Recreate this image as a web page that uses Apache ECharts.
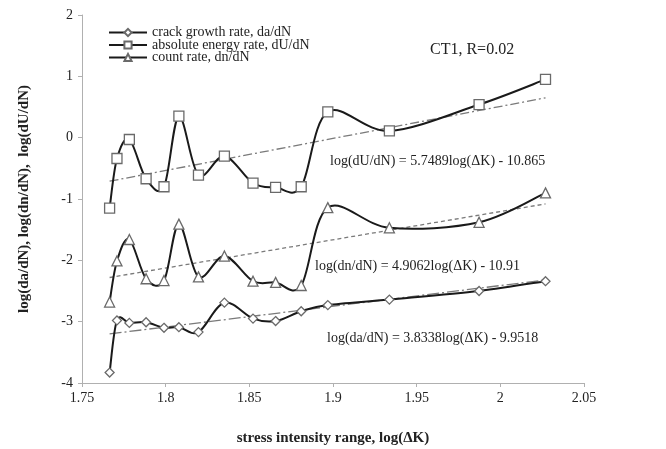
<!DOCTYPE html>
<html>
<head>
<meta charset="utf-8">
<script src="https://cdn.jsdelivr.net/npm/echarts@6/dist/echarts.min.js"></script>
<style>
html,body{margin:0;padding:0;background:#fff;}
#chart{width:666px;height:449px;}
</style>
</head>
<body>
<div id="chart"></div>
<script>
// log(ΔK) values shared by all three series
const xValues = [1.7665, 1.7709, 1.7783, 1.7883, 1.7990, 1.8079, 1.8196, 1.8351, 1.8522, 1.8657, 1.8810, 1.8969, 1.9337, 1.9873, 2.0270];
const daValues = [-3.83, -2.98, -3.02, -3.01, -3.10, -3.09, -3.17, -2.69, -2.95, -2.99, -2.83, -2.73, -2.64, -2.50, -2.34];
const dUValues = [-1.15, -0.34, -0.03, -0.67, -0.80, 0.35, -0.61, -0.30, -0.74, -0.81, -0.80, 0.42, 0.11, 0.54, 0.95];
const dnValues = [-2.68, -2.01, -1.66, -2.30, -2.33, -1.41, -2.27, -1.93, -2.34, -2.36, -2.41, -1.14, -1.47, -1.38, -0.90];

// trend line end points
const trendX = [1.7665, 2.0270];
const dUTrend = [-0.71, 0.65];
const dnTrend = [-2.28, -1.08];
const daTrend = [-3.20, -2.32];

const seriesNames = ['crack growth rate, da/dN', 'absolute energy rate, dU/dN', 'count rate, dn/dN'];
const xTicks = {min: 1.75, max: 2.05, interval: 0.05};
const yTicks = {min: -4, max: 2, interval: 1};

const equations = [
  'log(dU/dN) = 5.7489log(\u0394K) - 10.865',
  'log(dn/dN) = 4.9062log(\u0394K) - 10.91',
  'log(d\u0430/dN) = 3.8338log(\u0394K) - 9.9518'
];
const caseLabel = 'CT1, R=0.02';

const FONT = '"Liberation Serif", "DejaVu Serif", serif';
const zip = (xs, ys) => xs.map((x, i) => [x, ys[i]]);

const chart = echarts.init(document.getElementById('chart'), null, {renderer: 'canvas'});

// Excel-style smoothed curve drawn through the library's coordinate system
function smoothCurve(xs, ys) {
  return {
    type: 'custom', silent: true, z: 4, animation: false,
    data: zip(xs, ys),
    renderItem: function (params, api) {
      if (params.dataIndex !== 0) return null;
      const p = xs.map((x, i) => api.coord([x, ys[i]]));
      let d = 'M' + p[0][0] + ' ' + p[0][1];
      for (let i = 0; i < p.length - 1; i++) {
        const p0 = p[Math.max(i - 1, 0)], p1 = p[i], p2 = p[i + 1], p3 = p[Math.min(i + 2, p.length - 1)];
        const c1x = p1[0] + (p2[0] - p0[0]) / 6, c1y = p1[1] + (p2[1] - p0[1]) / 6;
        const c2x = p2[0] - (p3[0] - p1[0]) / 6, c2y = p2[1] - (p3[1] - p1[1]) / 6;
        d += ' C' + c1x + ' ' + c1y + ' ' + c2x + ' ' + c2y + ' ' + p2[0] + ' ' + p2[1];
      }
      return {
        type: 'path',
        shape: {pathData: d},
        style: {fill: 'none', stroke: '#1a1a1a', lineWidth: 2}
      };
    }
  };
}

function markerSeries(name, data, symbol, size) {
  return {
    name: name, type: 'line', data: data,
    symbol: symbol, symbolSize: size, showSymbol: true,
    lineStyle: {color: '#1a1a1a', width: 2, opacity: 0},
    itemStyle: {color: '#ffffff', borderColor: '#6a6a6a', borderWidth: 1.3},
    z: 6, animation: false
  };
}
function trendSeries(data, type) {
  return {
    type: 'line', data: data, symbol: 'none', silent: true,
    lineStyle: {color: '#7a7a7a', width: 1.3, type: type},
    z: 3, animation: false
  };
}

chart.setOption({
  animation: false,
  backgroundColor: '#ffffff',
  grid: {left: 82, top: 15, width: 502, height: 368, outerBoundsMode: 'none', containLabel: false},
  legend: {
    data: seriesNames,
    orient: 'vertical', left: 108, top: 25.5, padding: 0,
    itemWidth: 38, itemHeight: 9, itemGap: -1.5,
    lineStyle: {color: '#1a1a1a', width: 2, opacity: 1},
    textStyle: {fontFamily: FONT, fontSize: 14, color: '#222', lineHeight: 12.5}
  },
  xAxis: {
    type: 'value', min: xTicks.min, max: xTicks.max, interval: xTicks.interval,
    name: 'stress intensity range, log(\u0394K)', nameLocation: 'middle', nameGap: 48,
    nameTextStyle: {fontFamily: FONT, fontSize: 15, fontWeight: 'bold', color: '#222'},
    axisLine: {show: true, onZero: false, lineStyle: {color: '#b0b0b0', width: 1}},
    axisTick: {show: true, length: 4, lineStyle: {color: '#b0b0b0'}},
    axisLabel: {fontFamily: FONT, fontSize: 14, color: '#222', margin: 8,
      formatter: v => String(+v.toFixed(2))},
    splitLine: {show: false}
  },
  yAxis: {
    type: 'value', min: yTicks.min, max: yTicks.max, interval: yTicks.interval,
    name: 'log(da/dN), log(dn/dN),  log(dU/dN)', nameLocation: 'middle', nameGap: 50,
    nameTextStyle: {fontFamily: FONT, fontSize: 15, fontWeight: 'bold', color: '#222'},
    axisLine: {show: true, onZero: false, lineStyle: {color: '#b0b0b0', width: 1}},
    axisTick: {show: true, length: 4, lineStyle: {color: '#b0b0b0'}},
    axisLabel: {fontFamily: FONT, fontSize: 14, color: '#222', margin: 9},
    splitLine: {show: false}
  },
  graphic: [
    {type: 'text', left: 430, top: 42, style: {text: caseLabel, font: '16px ' + FONT, fill: '#222'}},
    {type: 'text', left: 330, top: 154, style: {text: equations[0], font: '14px ' + FONT, fill: '#222'}},
    {type: 'text', left: 315, top: 259, style: {text: equations[1], font: '14px ' + FONT, fill: '#222'}},
    {type: 'text', left: 327, top: 331, style: {text: equations[2], font: '14px ' + FONT, fill: '#222'}}
  ],
  series: [
    trendSeries(zip(trendX, dUTrend), [9, 3, 2, 3]),
    trendSeries(zip(trendX, dnTrend), [4, 3]),
    trendSeries(zip(trendX, daTrend), [12, 3, 2, 3]),
    smoothCurve(xValues, daValues),
    smoothCurve(xValues, dUValues),
    smoothCurve(xValues, dnValues),
    markerSeries(seriesNames[0], zip(xValues, daValues), 'diamond', 9),
    markerSeries(seriesNames[1], zip(xValues, dUValues), 'rect', 10),
    markerSeries(seriesNames[2], zip(xValues, dnValues), 'triangle', 10)
  ]
});
</script>
</body>
</html>
